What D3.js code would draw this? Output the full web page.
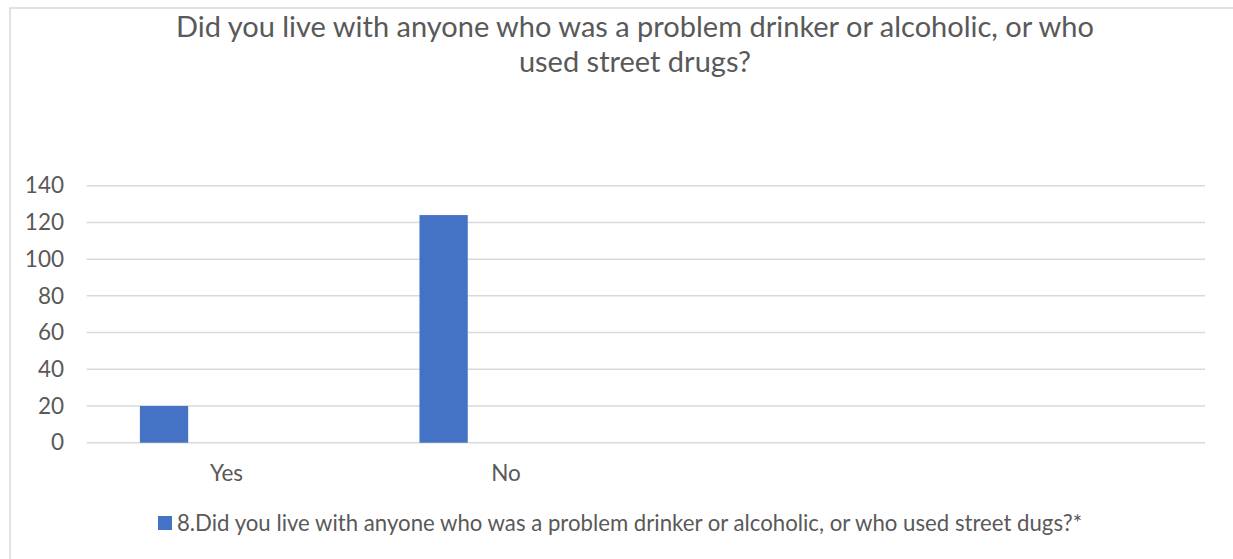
<!DOCTYPE html>
<html>
<head>
<meta charset="utf-8">
<script src="https://cdn.jsdelivr.net/npm/d3@7"></script>
<style>
  html, body { margin: 0; padding: 0; background: #fff; }
  svg { display: block; }
  text { font-family: Lato, "Open Sans", sans-serif; fill: #595959; }
</style>
</head>
<body>
<svg id="chart" width="1233" height="559"></svg>
<script>
// Chart data
const categories = ["Yes", "No", "", ""];
const seriesName = "8.Did you live with anyone who was a problem drinker or alcoholic, or who used street dugs?*";
const seriesValues = [20, 124, null, null];
const yTicks = [0, 20, 40, 60, 80, 100, 120, 140];
const titleLines = [
  "Did you live with anyone who was a problem drinker or alcoholic, or who",
  "used street drugs?"
];

const W = 1233, H = 559;
const svg = d3.select("#chart");

// Outer chart frame
svg.append("rect")
  .attr("x", 10).attr("y", 8)
  .attr("width", W).attr("height", H)
  .attr("fill", "#fff")
  .attr("stroke", "#d9d9d9").attr("stroke-width", 1.5);

// Title
const title = svg.append("text")
  .attr("text-anchor", "middle")
  .style("font-size", "29px");
titleLines.forEach((line, i) => {
  title.append("tspan")
    .attr("x", 635).attr("y", 37 + i * 35)
    .text(line);
});

// Scales
const plot = { left: 86.7, right: 1205, top: 185.7, bottom: 442.7 };
const x = d3.scaleBand()
  .domain(d3.range(categories.length))
  .range([plot.left, plot.right])
  .padding(0);
const xs = d3.scaleBand()
  .domain([seriesName])
  .range([0, x.bandwidth()])
  .paddingInner(0).paddingOuter(2.395).align(0.23);
const y = d3.scaleLinear().domain([0, 140]).range([plot.bottom, plot.top]);

// Gridlines
svg.append("g").selectAll("line")
  .data(yTicks)
  .join("line")
  .attr("x1", plot.left).attr("x2", plot.right)
  .attr("y1", d => y(d)).attr("y2", d => y(d))
  .attr("stroke", "#d9d9d9").attr("stroke-width", 1.5);

// Y axis labels
const yAxis = d3.axisLeft(y).tickValues(yTicks).tickSize(0).tickPadding(0);
const gy = svg.append("g").attr("transform", "translate(64,0)").call(yAxis);
gy.select(".domain").remove();
gy.selectAll("text")
  .style("font-family", "Lato, 'Open Sans', sans-serif")
  .style("font-size", "22.5px")
  .attr("fill", "#595959");

// X axis labels
const xAxis = d3.axisBottom(x).tickFormat(i => categories[i]).tickSize(0).tickPadding(0);
const gx = svg.append("g").attr("transform", `translate(0,${plot.bottom + 22})`).call(xAxis);
gx.select(".domain").remove();
gx.selectAll("text")
  .style("font-family", "Lato, 'Open Sans', sans-serif")
  .style("font-size", "22.5px")
  .attr("fill", "#595959");

// Bars
svg.append("g").selectAll("rect")
  .data(seriesValues.map((v, i) => ({ i, v })).filter(d => d.v != null))
  .join("rect")
  .attr("x", d => x(d.i) + xs(seriesName))
  .attr("width", xs.bandwidth())
  .attr("y", d => y(d.v))
  .attr("height", d => y(0) - y(d.v))
  .attr("fill", "#4472C4");

// Legend
const lg = svg.append("g").attr("transform", "translate(158,523)");
lg.append("rect").attr("x", 0).attr("y", -7).attr("width", 14).attr("height", 14).attr("fill", "#4472C4");
lg.append("text")
  .attr("x", 19).attr("y", 0).attr("dy", "0.35em")
  .style("font-size", "22.2px")
  .text(seriesName);
</script>
</body>
</html>
